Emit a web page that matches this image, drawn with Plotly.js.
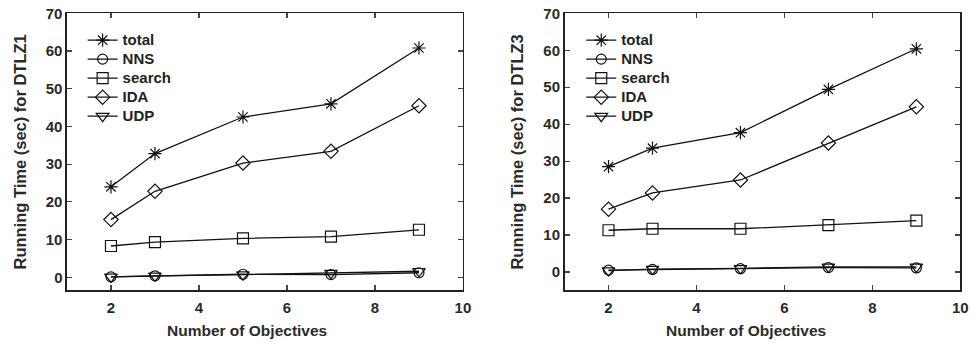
<!DOCTYPE html>
<html><head><meta charset="utf-8">
<script src="https://cdn.plot.ly/plotly-3.0.1.min.js"></script>
<style>html,body{margin:0;padding:0;background:#fff}</style>
</head><body>
<div id="chart" style="width:972px;height:342px"></div>
<script>
const objectives = [2, 3, 5, 7, 9];
const seriesNames = ['total', 'NNS', 'search', 'IDA', 'UDP'];
// DTLZ1
const dtlz1_total  = [24.0, 32.8, 42.5, 46.0, 60.8];
const dtlz1_NNS    = [0.1, 0.4, 0.8, 0.7, 1.2];
const dtlz1_search = [8.3, 9.3, 10.3, 10.8, 12.6];
const dtlz1_IDA    = [15.3, 22.8, 30.3, 33.4, 45.5];
const dtlz1_UDP    = [0.1, 0.4, 0.7, 1.1, 1.6];
// DTLZ3
const dtlz3_total  = [28.5, 33.5, 37.7, 49.4, 60.4];
const dtlz3_NNS    = [0.5, 0.7, 0.9, 1.2, 1.1];
const dtlz3_search = [11.3, 11.7, 11.7, 12.7, 13.9];
const dtlz3_IDA    = [17.0, 21.4, 24.9, 34.9, 44.7];
const dtlz3_UDP    = [0.4, 0.8, 1.0, 1.4, 1.4];
const xTicks = [2, 4, 6, 8, 10];
const yTicks = [0, 10, 20, 30, 40, 50, 60, 70];
const xTitle = 'Number of Objectives';
const yTitles = ['Running Time (sec) for DTLZ1', 'Running Time (sec) for DTLZ3'];

const symbols = ['asterisk-open', 'circle-open', 'square-open', 'diamond-open', 'triangle-down-open'];
const sizes = [11, 10, 11, 11, 11];
const d1 = [dtlz1_total, dtlz1_NNS, dtlz1_search, dtlz1_IDA, dtlz1_UDP];
const d3 = [dtlz3_total, dtlz3_NNS, dtlz3_search, dtlz3_IDA, dtlz3_UDP];

const lbl = n => '<span style="font-size:15px">' + n + '</span>';
const traces = [];
seriesNames.forEach((n, i) => {
  traces.push({x: objectives, y: d1[i], name: lbl(n), mode: 'lines+markers', xaxis: 'x', yaxis: 'y', legend: 'legend',
    line: {color: '#111', width: 1.3}, marker: {symbol: symbols[i], size: sizes[i], color: '#111', line: {color: '#111', width: 1.2}}});
});
seriesNames.forEach((n, i) => {
  traces.push({x: objectives, y: d3[i], name: lbl(n), mode: 'lines+markers', xaxis: 'x2', yaxis: 'y2', legend: 'legend2',
    line: {color: '#111', width: 1.3}, marker: {symbol: symbols[i], size: sizes[i], color: '#111', line: {color: '#111', width: 1.2}}});
});

const fam = 'Liberation Sans, Arial, sans-serif';
const fnt = {family: fam, size: 15, color: '#2a2a2a', weight: 'bold'};
function xa(dom, anchor) {
  return {domain: dom, anchor: anchor, range: [1, 10], tickvals: xTicks, ticks: 'inside', ticklen: 5, tickwidth: 1.2,
    showline: true, linewidth: 1.5, linecolor: '#222', mirror: 'ticks', showgrid: false, zeroline: false,
    tickfont: fnt, ticklabelstandoff: 3};
}
function ya(range, anchor, title) {
  return {domain: [0.1506, 0.9611], anchor: anchor, range: range, tickvals: yTicks, ticks: 'inside', ticklen: 5, tickwidth: 1.2,
    showline: true, linewidth: 1.5, linecolor: '#222', mirror: 'ticks', showgrid: false, zeroline: false,
    tickfont: fnt, title: {text: title, font: {family: fam, size: 16.5, color: '#2a2a2a', weight: 'bold'}, standoff: 15}};
}
const legFont = {family: fam, size: 12, color: '#222', weight: 'bold'};
const titleFont = {family: fam, size: 15.5, color: '#2a2a2a', weight: 'bold'};
const layout = {
  width: 972, height: 342, margin: {l: 0, r: 0, t: 0, b: 0},
  paper_bgcolor: '#fff', plot_bgcolor: '#fff', showlegend: true,
  xaxis: xa([0.0689, 0.4763], 'y'),
  yaxis: ya([-3.5, 70], 'x', yTitles[0]),
  xaxis2: xa([0.5808, 0.9880], 'y2'),
  yaxis2: ya([-5, 70], 'x2', yTitles[1]),
  legend: {x: 0.085, y: 0.925, xanchor: 'left', yanchor: 'top', bgcolor: 'rgba(0,0,0,0)', font: legFont, tracegroupgap: 0},
  legend2: {x: 0.598, y: 0.925, xanchor: 'left', yanchor: 'top', bgcolor: 'rgba(0,0,0,0)', font: legFont, tracegroupgap: 0},
  annotations: [
    {text: xTitle, xref: 'paper', yref: 'paper', x: 247 / 972, y: 1 - 330 / 342, xanchor: 'center', yanchor: 'middle', showarrow: false, font: titleFont},
    {text: xTitle, xref: 'paper', yref: 'paper', x: 746 / 972, y: 1 - 330 / 342, xanchor: 'center', yanchor: 'middle', showarrow: false, font: titleFont}
  ]
};
Plotly.newPlot('chart', traces, layout, {displayModeBar: false, staticPlot: true});
</script>
</body></html>
